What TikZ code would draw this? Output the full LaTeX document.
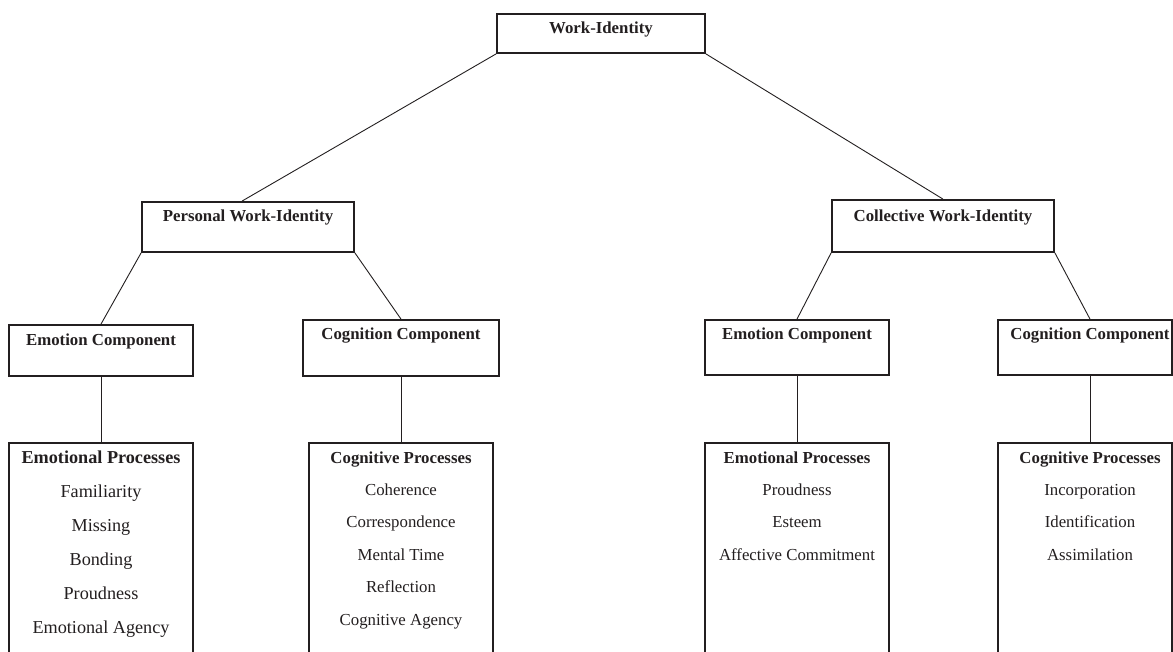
\documentclass[tikz,border=0pt]{standalone}
\usepackage{fontspec}
\setmainfont{Liberation Serif}
\definecolor{ink}{RGB}{35,31,32}
\begin{document}
\begin{tikzpicture}[x=1pt,y=-1pt,
  box/.style={draw=ink, line width=1.8pt, inner sep=0pt, rectangle},
  link/.style={draw=ink, line width=0.9pt},
  head/.style={anchor=base, text=ink, font=\fontsize{16.8}{20}\selectfont\bfseries, inner sep=0pt},
  item/.style={anchor=base, text=ink, font=\fontsize{16.8}{20}\selectfont, inner sep=0pt},
  bighead/.style={anchor=base, text=ink, font=\fontsize{18.2}{22}\selectfont\bfseries, inner sep=0pt},
  bigitem/.style={anchor=base, text=ink, font=\fontsize{18.2}{22}\selectfont, inner sep=0pt}]
\useasboundingbox (0,0) rectangle (1173,652);
\clip (0,0) rectangle (1173,652);
\fill[white] (0,0) rectangle (1173,652);

% boxes
\node[box, minimum width=208pt, minimum height=39pt] (wi) at (601,33.5) {};
\node[box, minimum width=212pt, minimum height=50pt] (pwi) at (248,227) {};
\node[box, minimum width=222pt, minimum height=52pt] (cwi) at (943,226) {};
\node[box, minimum width=184pt, minimum height=51pt] (e1) at (101,350.5) {};
\node[box, minimum width=196pt, minimum height=56pt] (c1) at (401,348) {};
\node[box, minimum width=184pt, minimum height=55pt] (e2) at (797,347.5) {};
\node[box, minimum width=174pt, minimum height=55pt] (c2) at (1085,347.5) {};
\node[box, minimum width=184pt, minimum height=257pt] (ep1) at (101,571.5) {};
\node[box, minimum width=184pt, minimum height=257pt] (cp1) at (401,571.5) {};
\node[box, minimum width=184pt, minimum height=257pt] (ep2) at (797,571.5) {};
\node[box, minimum width=174pt, minimum height=257pt] (cp2) at (1085,571.5) {};

% titles
\node[head] (twi) at (601,34) {Work-Identity};
\node[head] (tpwi) at (248,222) {Personal Work-Identity};
\node[head] (tcwi) at (943,222) {Collective Work-Identity};
\node[head] (te1) at (101,345) {Emotion Component};
\node[head] (tc1) at (401,340) {Cognition Component};
\node[head] (te2) at (797,340) {Emotion Component};
\node[head] (tc2) at (1090,340) {Cognition Component};

% process lists
\node[bighead] (tep1) at (101,463) {Emotional Processes};
\foreach \t [count=\i] in {Familiarity,Missing,Bonding,Proudness,Emotional Agency}
  \node[bigitem] (ep1-\i) at (101,463+34*\i) {\t};

\node[head] (tcp1) at (401,463) {Cognitive Processes};
\foreach \t [count=\i] in {Coherence,Correspondence,Mental Time,Reflection,Cognitive Agency}
  \node[item] (cp1-\i) at (401,463+32.4*\i) {\t};

\node[head] (tep2) at (797,463) {Emotional Processes};
\foreach \t [count=\i] in {Proudness,Esteem,Affective Commitment}
  \node[item] (ep2-\i) at (797,463+32.4*\i) {\t};

\node[head] (tcp2) at (1090,463) {Cognitive Processes};
\foreach \t [count=\i] in {Incorporation,Identification,Assimilation}
  \node[item] (cp2-\i) at (1090,463+32.4*\i) {\t};

% connectors
\draw[link] (wi.south west) -- ([xshift=-6pt]pwi.north);
\draw[link] (wi.south east) -- (cwi.north);
\draw[link] (pwi.south west) -- (e1.north);
\draw[link] (pwi.south east) -- (c1.north);
\draw[link] (cwi.south west) -- (e2.north);
\draw[link] (cwi.south east) -- ([xshift=5pt]c2.north);
\draw[link] (e1.south) -- (ep1.north);
\draw[link] (c1.south) -- (cp1.north);
\draw[link] (e2.south) -- (ep2.north);
\draw[link] ([xshift=5pt]c2.south) -- ([xshift=5pt]cp2.north);
\end{tikzpicture}
\end{document}
